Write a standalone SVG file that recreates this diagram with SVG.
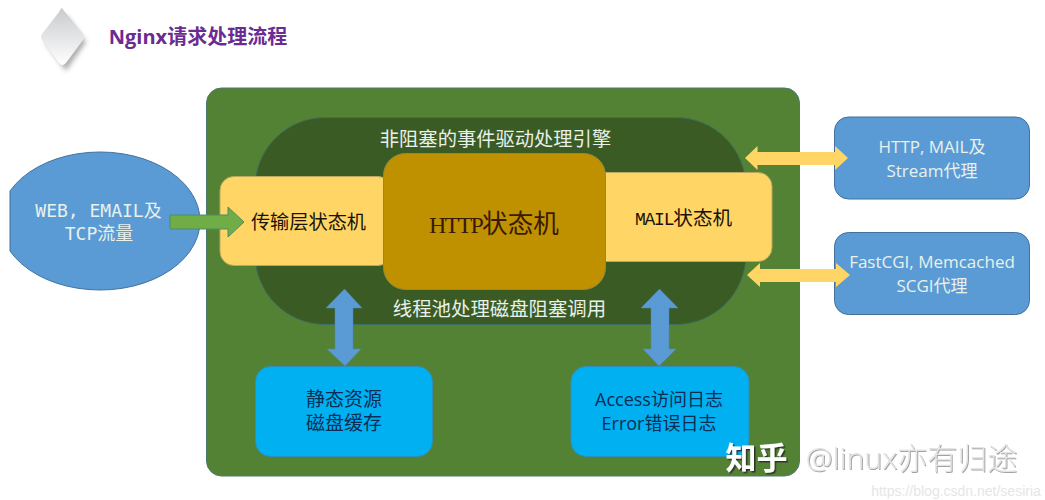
<svg xmlns="http://www.w3.org/2000/svg" width="1045" height="500" viewBox="0 0 1045 500">
<defs>
<linearGradient id="dia" x1="0" y1="0" x2="0" y2="1"><stop offset="0" stop-color="#c8cacd"/><stop offset="1" stop-color="#ffffff"/></linearGradient>
<filter id="sh" x="-30%" y="-30%" width="160%" height="160%"><feGaussianBlur stdDeviation="2.5"/></filter>
<filter id="dark" x="-10%" y="-10%" width="120%" height="130%"><feDropShadow dx="1.500" dy="1.500" stdDeviation=".3" flood-color="#222" flood-opacity=".8"/></filter>
<filter id="grey" x="-10%" y="-10%" width="120%" height="130%"><feDropShadow dx="1" dy="1" stdDeviation=".3" flood-color="#999" flood-opacity=".9"/></filter>
</defs>
<style>
.cjk{font-family:"Liberation Serif","Noto Sans CJK SC",serif}
.sans{font-family:"Open Sans","Noto Sans CJK SC",sans-serif}
.mono{font-family:"DejaVu Sans Mono","Noto Sans CJK SC",monospace}
.smono{font-family:"Liberation Mono","Noto Sans CJK SC",monospace}
text{text-anchor:middle}
.w{fill:#e8f1ea}
.b{fill:#1a1208}
.n{fill:#0b2d55}
.blue{fill:#5b9bd5;stroke:#41719c;stroke-width:1}
.cyan{fill:#00b0f0;stroke:#2e8fb8;stroke-width:1}
.yel{fill:#ffd666;stroke:#b8a860;stroke-width:1}
.arrY{fill:#ffd666}
.arrB{fill:#5b9bd5;stroke:#4f86b8;stroke-width:.5}
</style>
<rect width="1045" height="500" fill="#fff"/>
<g id="title">
<path d="M64 12 L84 39 L64 68 L43 39 Z" fill="#8a8a8a" opacity=".7" filter="url(#sh)" transform="translate(2,3)"/>
<path d="M62 8 Q62 8 65 12 L83 34 Q85 37 83 40 L66 63 Q62 67 59 63 L42 40 Q40 37 42 34 L59 12 Q61 8 62 8Z" fill="url(#dia)"/>
<text x="198" y="44" font-size="20" font-weight="700" fill="#6a2c91" style="font-family:'Open Sans','Noto Sans CJK SC',sans-serif">Nginx请求处理流程</text>
</g>
<g id="outer"><rect x="206.500" y="88" width="593" height="388" rx="15" fill="#548235" stroke="#4a7a6a" stroke-width="1"/></g>
<g id="engine"><rect x="255" y="117.500" width="491" height="207" rx="70" fill="#3b5b25" stroke="#3f6f60" stroke-width="1"/>
<text class="cjk w" x="495.500" y="146" font-size="19.300">非阻塞的事件驱动处理引擎</text>
<text class="cjk w" x="499.500" y="316" font-size="19.400">线程池处理磁盘阻塞调用</text></g>
<g id="source"><path d="M10 191 A100 69 0 1 1 10 251 Z" class="blue"/>
<text class="mono w" x="98.500" y="217" font-size="18">WEB, EMAIL及</text>
<text class="mono w" x="99" y="240" font-size="18">TCP流量</text></g>
<g id="transport"><rect x="220" y="176.500" width="172" height="89" rx="14" class="yel"/>
<text class="cjk b" x="308.500" y="229" font-size="19.200">传输层状态机</text></g>
<g id="mail"><rect x="590" y="172.500" width="182" height="89" rx="14" class="yel"/>
<text class="smono b" x="683.500" y="225" font-size="19.600"><tspan font-size="18" letter-spacing="-1.200">MAIL</tspan>状态机</text></g>
<g id="http"><rect x="383.500" y="153.500" width="222" height="136" rx="22" fill="#bf9000" stroke="#8f8a40" stroke-width="1"/>
<text class="cjk" fill="#3a1a06" x="494" y="233" font-size="25.600"><tspan font-size="24" letter-spacing="-1.750">HTTP</tspan>状态机</text></g>
<g id="proxy1"><rect x="834.500" y="117" width="195" height="82" rx="14" class="blue"/>
<text class="sans w" x="932" y="153" font-size="17">HTTP, MAIL及</text>
<text class="sans w" x="932" y="177" font-size="17">Stream代理</text></g>
<g id="proxy2"><rect x="834.500" y="232.500" width="195" height="82" rx="14" class="blue"/>
<text class="sans w" x="932" y="268" font-size="17">FastCGI, Memcached</text>
<text class="sans w" x="932" y="292" font-size="17">SCGI代理</text></g>
<g id="static"><rect x="255.500" y="366.500" width="177" height="90" rx="15" class="cyan"/>
<text class="sans n" x="344" y="406" font-size="19">静态资源</text>
<text class="sans n" x="344" y="430" font-size="19">磁盘缓存</text></g>
<g id="logs"><rect x="571" y="366.500" width="178" height="90" rx="15" class="cyan"/>
<text class="sans n" x="659" y="406" font-size="18">Access访问日志</text>
<text class="sans n" x="659" y="430" font-size="18">Error错误日志</text></g>
<g id="connectors">
<path d="M170 215 H228 V207 L244 222 L228 237 V229 H170 Z" fill="#70ad47" stroke="#4f8a6a" stroke-width="1"/>
<path class="arrY" d="M745 158 L757.500 146 V152 H835 V146 L848 158 L835 170 V165 H757.500 V170 Z"/>
<path class="arrY" d="M747 275 L760 263 V269 H836 V263 L850 275 L836 287 V282 H760 V287 Z"/>
<path class="arrB" d="M344.500 289 L362 308 H353 V349 H361 L345 366 L327 349 H335 V308 H326 Z"/>
<path class="arrB" d="M659.500 289 L678 308 H669 V349 H676 L659 366 L643 349 H651 V308 H641 Z"/>
</g>
<g id="watermark">
<text x="756.500" y="469" font-size="31" font-weight="700" fill="#fff" filter="url(#dark)" style="font-family:'Noto Sans CJK SC',sans-serif">知乎</text>
<text x="911.500" y="469" font-size="30" font-weight="300" fill="#e4e4e4" filter="url(#grey)" style="font-family:'Noto Sans','Noto Sans CJK SC',sans-serif">@linux亦有归途</text>
<text x="956" y="496" font-size="14" fill="#e6e6e6" style="font-family:'Liberation Sans',sans-serif">https://blog.csdn.net/sesiria</text>
</g>
</svg>
